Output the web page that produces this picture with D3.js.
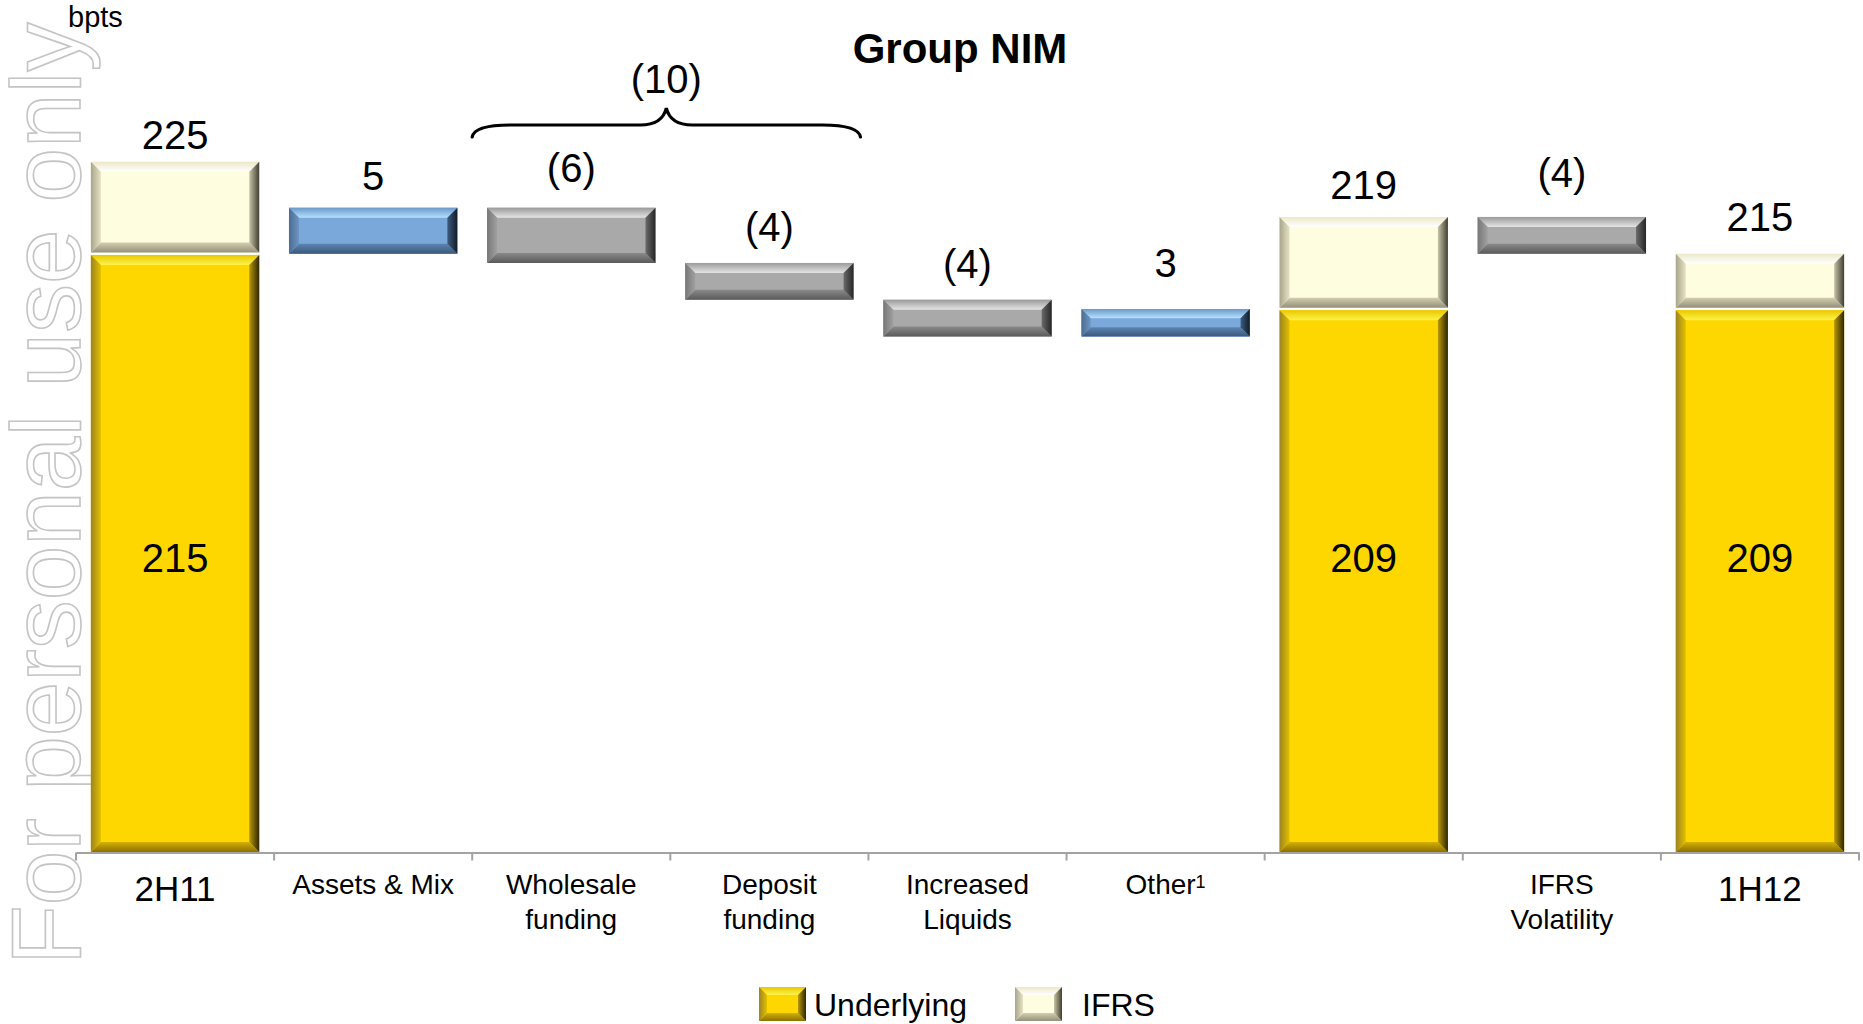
<!DOCTYPE html>
<html>
<head>
<meta charset="utf-8">
<script src="https://cdn.jsdelivr.net/npm/d3@7"></script>
<style>
  html, body { margin: 0; padding: 0; background: #ffffff; }
  svg { display: block; font-family: "Liberation Sans", Arial, Helvetica, sans-serif; }
</style>
</head>
<body>
<svg id="chart" width="1863" height="1024"></svg>
<script>
// Group NIM walk from 2H11 to 1H12, in basis points
const categories = ["2H11", "Assets & Mix", "Wholesale\nfunding", "Deposit\nfunding",
                    "Increased\nLiquids", "Other", "", "IFRS\nVolatility", "1H12"];
const footnotes  = [null, null, null, null, null, "1", null, null, null];

// Stacked totals: underlying margin plus the IFRS component
const underlying = [215, null, null, null, null, null, 209, null, 209];
const ifrs       = [10,  null, null, null, null, null, 10,  null, 6];

// Movements between the totals and the level each one moves
const change      = [null, 5, -6, -4, -4, 3, null, -4, null];
const changeBasis = [null, "Underlying", "Underlying", "Underlying", "Underlying", "Underlying", null, "IFRS", null];

// Movements summed under the brace
const bracketed = ["Wholesale\nfunding", "Deposit\nfunding"];

const seriesNames = ["Underlying", "IFRS"];
const yDomain = [150, 225];

// ---- layout -------------------------------------------------------------
const W = 1863, H = 1024;
const axisY = 852.5;
const plotTop = 161.7;
const labelGap = [13, 18, 26, 22, 22, 32, 18, 30, 23];   // px from bar top to value baseline
const innerLabelBaseline = 572;

const svg = d3.select("#chart");
const defs = svg.append("defs");

const palettes = {
  gold:  { face: "#FFD700", topOuter: "#E8C800", topInner: "#FFF24A", botInner: "#D4B000", botOuter: "#8A7000",
           leftOuter: "#9C8420", leftInner: "#E2C000", rightInner: "#B89800", rightOuter: "#2E2600" },
  cream: { face: "#FFFDDF", topOuter: "#ECE8C8", topInner: "#FFFFFF", botInner: "#D2CEB0", botOuter: "#94907A",
           leftOuter: "#A9A58C", leftInner: "#E6E2C4", rightInner: "#C8C4A8", rightOuter: "#403E30" },
  blue:  { face: "#7AA8DA", topOuter: "#6A98C8", topInner: "#B6E0FF", botInner: "#5C84B0", botOuter: "#3A587C",
           leftOuter: "#4C6C90", leftInner: "#6C96C4", rightInner: "#3C5C80", rightOuter: "#121C28" },
  gray:  { face: "#A9A9A9", topOuter: "#9A9A9A", topInner: "#E4E4E4", botInner: "#8A8A8A", botOuter: "#5A5A5A",
           leftOuter: "#777777", leftInner: "#A0A0A0", rightInner: "#6A6A6A", rightOuter: "#262626" }
};

function grad(id, vertical, c0, c1) {
  const g = defs.append("linearGradient").attr("id", id)
    .attr("x1", 0).attr("y1", 0).attr("x2", vertical ? 0 : 1).attr("y2", vertical ? 1 : 0);
  g.append("stop").attr("offset", "0%").attr("stop-color", c0);
  g.append("stop").attr("offset", "100%").attr("stop-color", c1);
}
Object.entries(palettes).forEach(([k, p]) => {
  grad(`${k}-top`, true, p.topOuter, p.topInner);
  grad(`${k}-bot`, true, p.botInner, p.botOuter);
  grad(`${k}-left`, false, p.leftOuter, p.leftInner);
  grad(`${k}-right`, false, p.rightInner, p.rightOuter);
});

// Bevelled block: flat face framed by four shaded edges
function bevel(sel, x, y, w, h, key, depth = 10) {
  const b = Math.min(depth, h / 3, w / 3);
  const p = palettes[key];
  const g = sel.append("g");
  g.append("rect").attr("x", x).attr("y", y).attr("width", w).attr("height", h).attr("fill", p.face);
  const poly = (pts, fill) => g.append("polygon").attr("points", pts.map(d => d.join(",")).join(" ")).attr("fill", fill);
  poly([[x, y], [x + w, y], [x + w - b, y + b], [x + b, y + b]], `url(#${key}-top)`);
  poly([[x + b, y + h - b], [x + w - b, y + h - b], [x + w, y + h], [x, y + h]], `url(#${key}-bot)`);
  poly([[x, y], [x + b, y + b], [x + b, y + h - b], [x, y + h]], `url(#${key}-left)`);
  poly([[x + w - b, y + b], [x + w, y], [x + w, y + h], [x + w - b, y + h - b]], `url(#${key}-right)`);
  return g;
}

// ---- derived waterfall rows --------------------------------------------
const running = {};
const rows = categories.map((c, i) => {
  if (underlying[i] != null) {
    const total = underlying[i] + ifrs[i];
    running.Underlying = underlying[i];
    running.IFRS = total;
    return { i, c, type: "total", underlying: underlying[i], total };
  }
  const start = running[changeBasis[i]];
  const end = start + change[i];
  running[changeBasis[i]] = end;
  return { i, c, type: "step", start, end, value: change[i] };
});

const fmt = v => v < 0 ? `(${-v})` : `${v}`;

// ---- scales ----------------------------------------------------------------
const x = d3.scaleBand().domain(d3.range(categories.length)).range([76, 1859])
  .paddingInner(0.15).paddingOuter(0.075);
const y = d3.scaleLinear().domain(yDomain).range([852, plotTop]);

// ---- watermark -------------------------------------------------------------
svg.append("text")
  .attr("transform", "translate(80,965) rotate(-90)")
  .attr("font-size", 98)
  .attr("fill", "none")
  .attr("stroke", "#c4c4c4")
  .attr("stroke-width", 1.6)
  .text("For personal use only");

// ---- title & unit ------------------------------------------------------------
svg.append("text").attr("x", 960).attr("y", 63).attr("text-anchor", "middle")
  .attr("font-size", 42).attr("font-weight", "bold").attr("fill", "#000").text("Group NIM");
svg.append("text").attr("x", 68).attr("y", 27).attr("font-size", 29).attr("fill", "#000").text("bpts");

// ---- bars ------------------------------------------------------------------------
const bars = svg.append("g");
rows.forEach(r => {
  const x0 = x(r.i), w = x.bandwidth();
  if (r.type === "total") {
    const yu = y(r.underlying), yt = y(r.total), yb = y(yDomain[0]);
    bevel(bars, x0, yu + 1.2, w, yb - yu - 1.2, "gold");
    bevel(bars, x0, yt, w, yu - yt - 1.2, "cream");
  } else {
    const top = y(Math.max(r.start, r.end)), bot = y(Math.min(r.start, r.end));
    bevel(bars, x0, top, w, bot - top, r.value >= 0 ? "blue" : "gray");
  }
});

// ---- value labels ----------------------------------------------------------------
const labels = svg.append("g").attr("font-size", 40).attr("fill", "#000").attr("text-anchor", "middle");
rows.forEach(r => {
  const cx = x(r.i) + x.bandwidth() / 2;
  const top = r.type === "total" ? y(r.total) : y(Math.max(r.start, r.end));
  labels.append("text").attr("x", cx).attr("y", top - labelGap[r.i])
    .text(r.type === "total" ? r.total : fmt(r.value));
  if (r.type === "total") {
    labels.append("text").attr("x", cx).attr("y", innerLabelBaseline).text(r.underlying);
  }
});

// ---- brace over the funding movements ------------------------------------------
const bIdx = bracketed.map(c => categories.indexOf(c));
const bx0 = x(bIdx[0]) - x.step() * x.paddingInner() / 2;
const bx1 = x(bIdx[bIdx.length - 1]) + x.bandwidth() + x.step() * x.paddingInner() / 2 - 8;
const bm = (bx0 + bx1) / 2;
const by = 125, byEnd = 137, byPeak = 108;
const brace = d3.path();
brace.moveTo(bx0, byEnd);
brace.quadraticCurveTo(bx0 + 2, by, bx0 + 38, by);
brace.lineTo(bm - 26, by);
brace.quadraticCurveTo(bm - 4, by, bm, byPeak);
brace.quadraticCurveTo(bm + 4, by, bm + 26, by);
brace.lineTo(bx1 - 38, by);
brace.quadraticCurveTo(bx1 - 2, by, bx1, byEnd);
svg.append("path").attr("d", brace.toString()).attr("fill", "none")
  .attr("stroke", "#000").attr("stroke-width", 3.2).attr("stroke-linecap", "round");
svg.append("text").attr("x", bm).attr("y", 93).attr("text-anchor", "middle")
  .attr("font-size", 40).attr("fill", "#000")
  .text(fmt(d3.sum(bIdx, i => change[i])));

// ---- category axis -------------------------------------------------------------
const axisG = svg.append("g").attr("transform", `translate(0,${axisY})`)
  .call(d3.axisBottom(x).tickSize(0).tickSizeOuter(0).tickFormat(() => ""));
axisG.select(".domain").attr("stroke", "#a3a3a3").attr("stroke-width", 2);
axisG.selectAll(".tick").remove();

const [r0] = x.range();
axisG.selectAll("line.bound").data(d3.range(categories.length + 1)).join("line")
  .attr("class", "bound")
  .attr("x1", i => r0 + i * x.step()).attr("x2", i => r0 + i * x.step())
  .attr("y1", 0).attr("y2", 8)
  .attr("stroke", "#a3a3a3").attr("stroke-width", 2);

const catG = svg.append("g").attr("fill", "#000").attr("text-anchor", "middle");
rows.forEach(r => {
  if (!r.c) return;
  const cx = x(r.i) + x.bandwidth() / 2;
  const big = r.type === "total";
  const t = catG.append("text").attr("x", cx).attr("y", big ? 900.7 : 893.5)
    .attr("font-size", big ? 35 : 28);
  r.c.split("\n").forEach((line, k) => {
    t.append("tspan").attr("x", cx).attr("dy", k === 0 ? 0 : 35).text(line);
  });
  if (footnotes[r.i]) {
    t.append("tspan").attr("font-size", 18).attr("dy", -6).text(footnotes[r.i]);
  }
});

// ---- legend ---------------------------------------------------------------------
const legend = svg.append("g");
const legendItems = [
  { name: seriesNames[0], key: "gold",  bx: 759,  tx: 814 },
  { name: seriesNames[1], key: "cream", bx: 1015, tx: 1082 }
];
legendItems.forEach(d => {
  bevel(legend, d.bx, 987, 47, 34, d.key, 8);
  legend.append("text").attr("x", d.tx).attr("y", 1016).attr("font-size", 32).attr("fill", "#000").text(d.name);
});
</script>
</body>
</html>
